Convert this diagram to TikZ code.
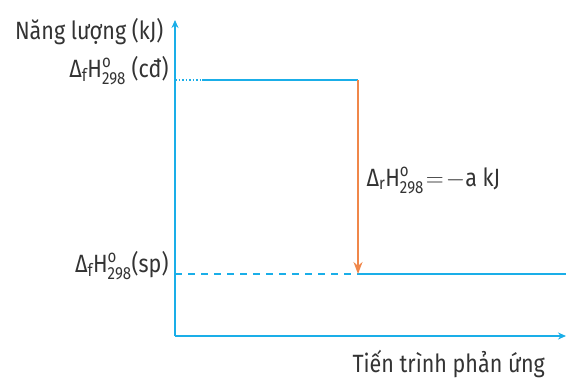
\documentclass[tikz,border=0pt]{standalone}
\usepackage{amsmath}
\usepackage{fontspec}
\setmainfont[FakeStretch=0.86]{Fira Sans}
\usetikzlibrary{arrows.meta}
\definecolor{axisblue}{HTML}{1AAEE8}
\definecolor{arroworange}{HTML}{F0874A}
\newcommand{\enth}[1]{Δ$_{\text{#1}}$H$^{\text{o}}_{\text{298}}$}

\begin{document}
\begin{tikzpicture}[x=1pt,y=-1pt,>={Stealth[length=8pt,width=7pt]},font=\fontsize{25}{28}\selectfont,text=black!80]
\useasboundingbox (0,0) rectangle (566,378);
% axes
\coordinate (O) at (175,336);
\coordinate (ytop) at (175,20);
\coordinate (xend) at (566,336);
\draw[axisblue,line width=1.5pt,->] (O) -- (ytop);
\draw[axisblue,line width=1.5pt,->] (O) -- (xend);
\node[anchor=base east] (ylab) at (167,39) {Năng lượng (kJ)};
\node[anchor=base west] (xlab) at (349,372) {Tiến trình phản ứng};
% levels
\coordinate (cdL) at (175,80);
\coordinate (cdM) at (202,80);
\coordinate (cdR) at (358,80);
\coordinate (spL) at (175,274);
\coordinate (spM) at (358,274);
\coordinate (spR) at (566,274);
\draw[axisblue,line width=1.5pt,dotted] (cdL) -- (cdM);
\draw[axisblue,line width=1.5pt] (cdM) -- (cdR);
\draw[axisblue,line width=1.5pt,dash pattern=on 7pt off 6pt] (spL) -- (spM);
\draw[axisblue,line width=1.5pt] (spM) -- (spR);
\node[anchor=base east] (cd) at (172,77) {\enth{f} (cđ)};
\node[anchor=base east] (sp) at (172,272) {\enth{f}(sp)};
% enthalpy change
\draw[arroworange,line width=1.8pt,->,>={Stealth[length=12pt,width=9pt]}] (cdR) -- (spM);
\node[anchor=base west] (dr) at (363,186) {\enth{r}\kern2pt$=$\kern2pt$-$a kJ};
\end{tikzpicture}
\end{document}
